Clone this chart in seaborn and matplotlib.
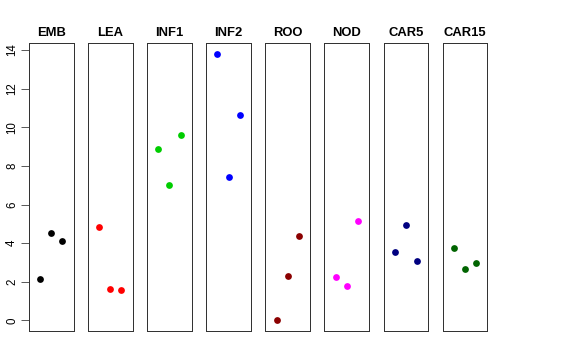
import numpy as np
import pandas as pd
import seaborn as sns
import matplotlib
matplotlib.use("Agg")
import matplotlib.pyplot as plt

# tissues and the three replicate values
tissues = ['EMB', 'LEA', 'INF1', 'INF2', 'ROO', 'NOD', 'CAR5', 'CAR15']
rep1 = [2.16, 4.86, 8.88, 13.81, 0.00, 2.26, 3.56, 3.77]
rep2 = [4.53, 1.62, 7.00, 7.45, 2.30, 1.78, 4.94, 2.64]
rep3 = [4.11, 1.57, 9.59, 10.65, 4.37, 5.13, 3.09, 2.99]
colors = ['black', 'red', '#00CD00', 'blue', '#8B0000', 'magenta', '#000080', '#006400']

rows = []
for i, t in enumerate(tissues):
    for r, vals in enumerate([rep1, rep2, rep3]):
        rows.append({'tissue': t, 'rep': r + 1, 'value': vals[i]})
data = pd.DataFrame(rows)

sns.set_style("white")
plt.rcParams['font.family'] = ['Liberation Sans', 'DejaVu Sans']
plt.rcParams['text.color'] = 'black'
plt.rcParams['ytick.color'] = 'black'

fig = plt.figure(figsize=(8, 5), dpi=72)

left0 = 29 / 576
w = 44.5 / 576
step = 59.1 / 576
bottom = 1 - 331 / 360
h = (331 - 43.3) / 360

for i, t in enumerate(tissues):
    ax = fig.add_axes([left0 + i * step, bottom, w, h])
    sub = data[data['tissue'] == t]
    sns.scatterplot(x='rep', y='value', data=sub, color=colors[i], s=46,
                    linewidth=0, ax=ax, legend=False)
    ax.set_xlim(0, 4)
    ax.set_ylim(-0.55, 14.35)
    ax.set_xticks([])
    ax.set_xlabel('')
    ax.set_ylabel('')
    ax.set_title(t, fontsize=13, fontweight='bold', pad=7, color='black')
    for sp in ax.spines.values():
        sp.set_color('#333333')
        sp.set_linewidth(1)
    if i == 0:
        ax.set_yticks(np.arange(0, 15, 2))
        ax.tick_params(axis='y', left=True, length=8, width=0.8, color='#333333',
                       labelsize=11.5, pad=3, labelcolor='black')
        for lab in ax.get_yticklabels():
            lab.set_rotation(90)
            lab.set_va('center')
    else:
        ax.set_yticks([])

plt.savefig('out.png', dpi=72)
